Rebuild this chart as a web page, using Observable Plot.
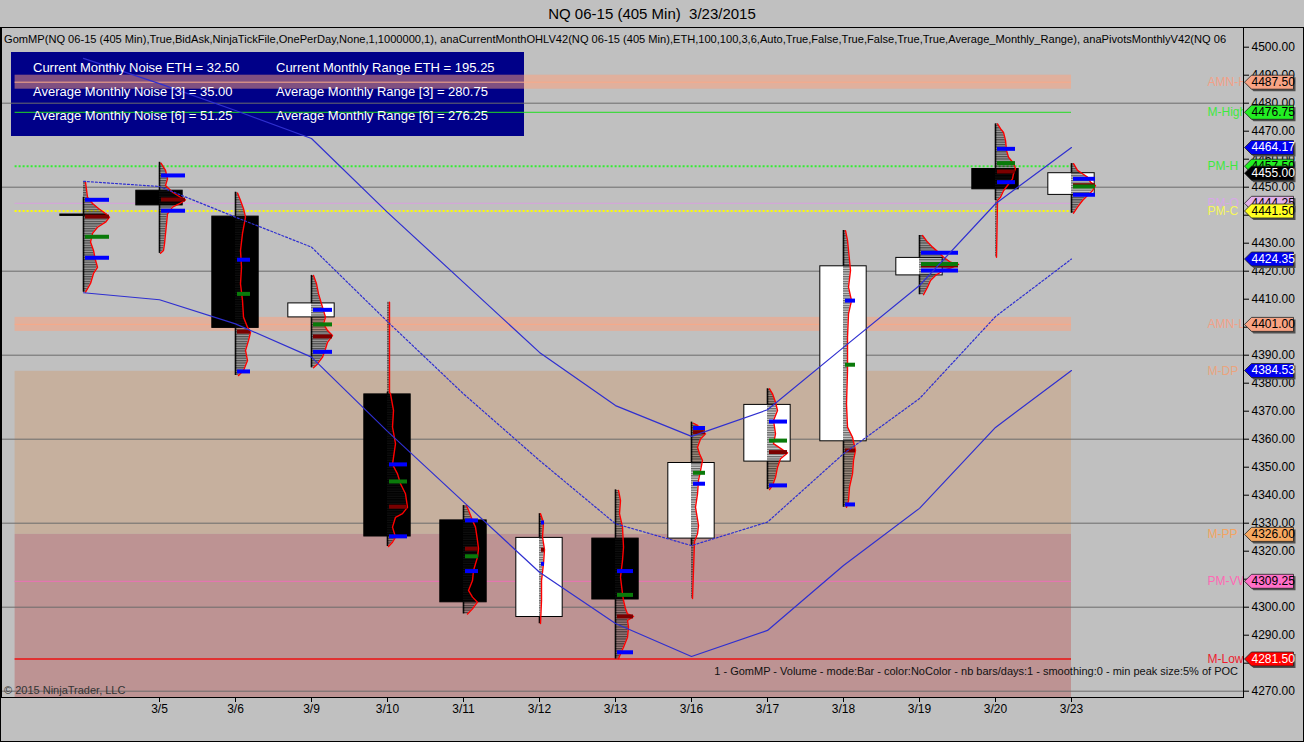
<!DOCTYPE html>
<html><head><meta charset="utf-8">
<script src="https://cdn.jsdelivr.net/npm/d3@7"></script>
<script src="https://cdn.jsdelivr.net/npm/@observablehq/plot@0.6"></script>
<style>
html,body{margin:0;padding:0;background:#c0c0c0;}
#wrap{position:relative;width:1304px;height:742px;overflow:hidden;font-family:"Liberation Sans",Arial,sans-serif;}
#border{position:absolute;left:0;top:27px;width:1304px;height:715px;box-sizing:border-box;border:1px solid #000;}
#infobox{position:absolute;left:11px;top:52px;width:513px;height:84px;background:#000088;}
#chart{position:absolute;left:0;top:0;}
.t{position:absolute;white-space:nowrap;}
#title{left:0;top:5px;width:1304px;text-align:center;font-size:15px;line-height:18px;color:#000;}
#params{left:4px;top:33px;width:1238px;overflow:hidden;font-size:11.1px;line-height:13px;color:#000;}
.info{font-size:13px;line-height:16px;color:#fff;}
#copy{left:4px;top:683px;font-size:11px;line-height:14px;color:#333;}
#caption{right:66px;top:664px;font-size:11px;line-height:14px;color:#111;}
</style></head>
<body>
<svg width="0" height="0" style="position:absolute"><defs>
<pattern id="hatch" patternUnits="userSpaceOnUse" width="6" height="2.4"><rect width="6" height="1.3" fill="rgba(0,0,0,0.6)"/><rect y="1.3" width="6" height="1.1" fill="rgba(60,60,60,0.25)"/></pattern>
</defs></svg>
<div id="wrap">
  <div id="border"></div>
  <div id="infobox"></div>
  <div id="chart"></div>
  <div class="t" id="title">NQ 06-15 (405 Min)&nbsp;&nbsp;3/23/2015</div>
  <div class="t" id="params">GomMP(NQ 06-15 (405 Min),True,BidAsk,NinjaTickFile,OnePerDay,None,1,1000000,1), anaCurrentMonthOHLV42(NQ 06-15 (405 Min),ETH,100,100,3,6,Auto,True,False,True,False,True,True,Average_Monthly_Range), anaPivotsMonthlyV42(NQ 06</div>
  <div class="t info" style="left:33px;top:60px">Current Monthly Noise ETH = 32.50</div>
  <div class="t info" style="left:276px;top:60px">Current Monthly Range ETH = 195.25</div>
  <div class="t info" style="left:33px;top:84px">Average Monthly Noise [3] = 35.00</div>
  <div class="t info" style="left:276px;top:84px">Average Monthly Range [3] = 280.75</div>
  <div class="t info" style="left:33px;top:108px">Average Monthly Noise [6] = 51.25</div>
  <div class="t info" style="left:276px;top:108px">Average Monthly Range [6] = 276.25</div>
  <div class="t" id="copy">© 2015 NinjaTrader, LLC</div>
  <div class="t" id="caption">1 - GomMP - Volume - mode:Bar - color:NoColor - nb bars/days:1 - smoothing:0 - min peak size:5% of POC</div>
</div>
<script>
// ---- bars (405 min, one per day) ----
const dates = ["3/4","3/5","3/6","3/9","3/10","3/11","3/12","3/13","3/16","3/17","3/18","3/19","3/20","3/23"];
const open  = [4440.25,4448.75,4439.5,4403.5,4376,4331,4296.5,4324.5,4324.5,4352,4359.25,4418.5,4456.5,4447.25];
const close = [4439.75,4443.5,4399.75,4408.5,4325.25,4301.75,4324.75,4302.75,4351.5,4372.25,4421.75,4424.75,4449.25,4455];
const high  = [4446.4,4458.9,4448.2,4418.5,4376.8,4336.3,4333.4,4341.9,4366.1,4378,4434.5,4432.75,4472.6,4458.4];
const low   = [4412.5,4426.4,4382.75,4385.5,4321.7,4297.6,4294.1,4281.5,4322,4342,4335.7,4411.6,4445.25,4440.7];

// ---- envelope lines ----
const upperBand  = [4496,4487,4477.4,4467.4,4441,4416,4391,4372,4361,4370.5,4392.8,4414.9,4444.1,4464.17];
const middleBand = [4452.1,4450.25,4439.3,4428.6,4402,4376.2,4352.4,4329.8,4322,4330.4,4354.8,4374.5,4403.8,4424.35];
const lowerBand  = [4412.3,4409.8,4401.2,4389.3,4362.8,4337.6,4312.5,4294.2,4282.4,4291.7,4314.9,4335.3,4364.2,4384.53];

// ---- volume profiles: [price, volume] ----
const profile_0304 = [[4451.8,2],[4446.4,4],[4444.2,9],[4442.4,15],[4440.6,22],[4439.3,26],[4437.5,22],[4435.7,14],[4433.5,9],[4430.4,7],[4427.4,10],[4423.9,12],[4421.4,14],[4419.2,10],[4415.6,7],[4412.5,2]];
const profile_0305 = [[4458.6,1.5],[4456.0,6],[4453.0,8],[4450.6,6],[4448.2,13],[4446.4,21],[4445.5,26],[4444.3,21],[4442.9,13],[4440.5,8],[4436.9,7],[4433.4,6],[4429.8,5],[4427.4,4],[4426.4,1]];
const profile_0306 = [[4447.9,2],[4445.25,5],[4442.3,8],[4439.3,10],[4433.5,7],[4427.4,5],[4421.4,6],[4415.5,5],[4409.5,7],[4403.6,8],[4400.0,12],[4398.2,15],[4395.25,13],[4391.7,10],[4388.1,12],[4384.5,8],[4382.75,3]];
const profile_0309 = [[4418.5,2],[4415.5,5],[4411.9,7],[4407.1,11],[4403.6,14],[4401.2,12],[4398.8,16],[4397.0,21],[4394.6,16],[4392.3,14],[4389.3,11],[4386.9,6],[4385.5,2]];
const profile_0310 = [[4408.9,2],[4376.8,2],[4376.2,3],[4370.3,6],[4364.3,5],[4358.4,8],[4351.0,5],[4347.6,10],[4344.1,13],[4340.5,18],[4335.7,20],[4333.4,15],[4332.1,8],[4328.6,5],[4325.0,8],[4323.2,5],[4321.7,1]];
const profile_0311 = [[4336.3,3],[4334.6,5],[4331.0,9],[4328.6,12],[4323.8,14],[4320.9,15],[4317.9,14],[4313.1,10],[4309.5,9],[4306.0,5],[4303.6,9],[4301.8,14],[4299.4,9],[4297.6,4]];
const profile_0312 = [[4333.4,1],[4330.25,4],[4325,3],[4320.6,5],[4315.6,4],[4309.5,2],[4302.4,2],[4294.2,1]];
const profile_0313 = [[4341.7,3],[4338.1,5],[4333.4,4],[4328.6,7],[4321.4,8],[4316.7,7],[4310.7,5],[4304.8,7],[4302.4,8],[4299.4,10],[4297.6,12],[4296.7,18],[4295.25,12],[4292.9,13],[4289.3,12],[4285.7,8],[4283.4,5],[4281.6,3]];
const profile_0316 = [[4365.7,2],[4364.9,6],[4363.7,9],[4361.9,14],[4360.1,9],[4357.1,6],[4354.8,8],[4352.4,11],[4348.8,9],[4345.3,7],[4340.5,6],[4335.7,4],[4329.2,7],[4326.2,6],[4323.5,3],[4303.1,1]];
const profile_0317 = [[4378.0,2],[4376.2,5],[4373.2,8],[4370.25,10],[4366.7,6],[4361.9,8],[4358.4,6],[4356.0,16],[4355.1,20],[4353.0,13],[4350.0,10],[4346.4,8],[4343.5,5],[4342.0,2]];
const profile_0318 = [[4434.5,2],[4431.0,4],[4423.9,6],[4420.3,7],[4414.3,5],[4409.5,8],[4404.8,5],[4396.4,4],[4384.5,4],[4372.6,3],[4364.3,4],[4360.7,9],[4356.0,12],[4352.4,10],[4347.6,9],[4342.9,6],[4338.1,5],[4335.7,3]];
const profile_0319 = [[4432.75,3],[4430.4,8],[4428.6,13],[4426.8,19],[4425.0,24],[4423.2,31],[4422.4,39],[4421.4,33],[4420.25,24],[4418.5,16],[4416.7,11],[4414.3,8],[4411.6,4]];
const profile_0320 = [[4472.6,2],[4470.9,5],[4469.6,8],[4466.7,10],[4463.1,11],[4460.7,13],[4458.6,18],[4456.6,20],[4454.8,18],[4453.0,17],[4450.6,12],[4448.75,8],[4446.4,5],[4445.25,2],[4425.0,1]];
const profile_0323 = [[4458.4,2],[4456.0,6],[4454.8,11],[4453.6,16],[4451.8,19],[4450.6,24],[4448.75,21],[4447.0,16],[4445.25,11],[4442.9,6],[4440.7,2]];
const profiles = [profile_0304,profile_0305,profile_0306,profile_0309,profile_0310,profile_0311,profile_0312,profile_0313,profile_0316,profile_0317,profile_0318,profile_0319,profile_0320,profile_0323];

// ---- profile markers ----
const vah  = [4445.5,4454.2,4424.1,4406.2,4351.0,4331.0,4330.25,4312.9,4364.0,4366.3,4409.5,4426.6,4463.7,4453.0];
const val  = [4424.8,4441.6,4384.2,4391.2,4325.3,4312.9,4315.5,4283.9,4344.1,4343.5,4336.7,4420.25,4451.8,4447.3];
const vwap = [4432.3,null,4411.9,4401.0,4344.9,4318.2,null,4304.4,4348.0,4359.5,4386.6,4422.6,4458.6,4450.25];
const poc  = [4439.5,4445.6,4398.4,4396.7,4335.9,4320.9,4320.5,4296.7,4362.5,4355.4,4356.0,4422.0,4455.6,4450.7];

// ---- monthly levels ----
const levelNames  = ["AMN-H","M-High","PM-H","PM-O","PM-C","AMN-L","M-DP","M-PP","PM-VWAP","M-Low"];
const levelValues = [4487.50,4476.75,4457.50,4444.25,4441.50,4401.00,4384.25,4326.00,4309.25,4281.50];
const noiseHalfWidth = 2.5;
const zoneNames  = ["DP-PP","PP-S1"];
const zoneTop    = [4384.25,4326.00];
const zoneBottom = [4326.00,4267.50];
const levelsFromBar = -0.9;

// ---- right-axis price markers ----
const flagValues = [4487.50,4476.75,4464.17,4457.50,4455.00,4444.25,4441.50,4424.35,4401.00,4384.53,4326.00,4309.25,4281.50];
const flagKinds  = ["AMN-H","M-High","Upper","PM-H","Last","PM-O","PM-C","Middle","AMN-L","Lower","M-PP","PM-VWAP","M-Low"];

const gridValues = d3.range(4270, 4481, 30);
const tickValues = d3.range(4270, 4501, 10);

// ---------- styles ----------
const BAR_SPACING_VOL = 76;
const lastBar = dates.length - 1;
const flagFill = {"AMN-H":"#f8a384","M-High":"#22ee22","Upper":"#0000ee","PM-H":"#22ee22","Last":"#000000","PM-O":"#e2b0ea","PM-C":"#ffff22","Middle":"#0000ee","AMN-L":"#f8a384","Lower":"#0000ee","M-PP":"#f7a860","PM-VWAP":"#ff70c8","M-Low":"#ff0000"};
const flagText = {"Upper":"#fff","Middle":"#fff","Lower":"#fff","Last":"#fff","M-Low":"#fff"};
const labelColor = {"AMN-H":"#f2a088","M-High":"#3ee83e","PM-H":"#3ee83e","PM-O":"#d8a8e8","PM-C":"#f6f65a","AMN-L":"#f2a088","M-DP":"#eaa47e","M-PP":"#f4a460","PM-VWAP":"#ff69b4","M-Low":"#ee1c2e"};
const zoneFill = {"DP-PP":"#c6b09e","PP-S1":"#bd9393"};

const bars = dates.map((d,i)=>({i, d, open:open[i], close:close[i], high:high[i], low:low[i]}));
const levels = levelNames.map((name,k)=>({name, value:levelValues[k]}));
const zones = zoneNames.map((name,k)=>({name, top:zoneTop[k], bottom:zoneBottom[k]}));
const bands = levels.filter(l=>l.name.startsWith("AMN"));
const profRows = profiles.flatMap((p,i)=>p.map(([price,vol])=>({bar:i, price, vol})));
const maxVol = profiles.map(p=>d3.max(p, r=>r[1]));
const markerRows = [];
[["POC",poc],["VWAP",vwap],["VAH",vah],["VAL",val]].forEach(([kind,arr])=>arr.forEach((p,i)=>{ if(p!=null) markerRows.push({bar:i, price:p, kind}); }));
const markerColor = {VAH:"#0000ff", VAL:"#0000ff", VWAP:"#0a7a0a", POC:"#7a0000"};
const bandRows = (arr,name)=>arr.map((v,i)=>({i, v, name}));
const flags = flagValues.map((v,k)=>({value:v, kind:flagKinds[k]}));
// axis labels fully hidden under a price flag are not drawn
const shownTicks = tickValues.filter(t => !flagValues.some(f => Math.abs(f - t) < 1.2));

const lineStyle = {
  "M-High": {stroke:"#22dd22", strokeWidth:1},
  "PM-H":   {stroke:"#33ee33", strokeWidth:2, strokeDasharray:"2,2"},
  "PM-O":   {stroke:"#d8a0dc", strokeWidth:1},
  "PM-C":   {stroke:"#ffff00", strokeWidth:2, strokeDasharray:"2,2"},
  "PM-VWAP":{stroke:"#ee70b8", strokeWidth:1},
  "M-Low":  {stroke:"#ee1010", strokeWidth:1.5},
  "AMN-H":  {stroke:"#f8a888", strokeWidth:1},
  "AMN-L":  {stroke:"#f8a888", strokeWidth:1}
};

const flagSymbol = {draw(ctx){ ctx.moveTo(1,0); ctx.lineTo(8,-7); ctx.lineTo(50,-7); ctx.lineTo(50,7); ctx.lineTo(8,7); ctx.closePath(); }};

const marks = [
  Plot.rect(zones, {x1: ()=>levelsFromBar, x2: ()=>lastBar, y1:"bottom", y2:"top", fill: d=>zoneFill[d.name], clip:true}),
  Plot.rect(bands, {x1: ()=>levelsFromBar, x2: ()=>lastBar, y1: d=>d.value-noiseHalfWidth, y2: d=>d.value+noiseHalfWidth, fill:"#ffa07a", fillOpacity:0.5}),
  Plot.ruleY(gridValues, {stroke:"#6c6c6c", strokeWidth:1}),
  ...levels.filter(l=>lineStyle[l.name]).map(l=>Plot.ruleY([l], {y:"value", x1: ()=>levelsFromBar, x2: ()=>lastBar, ...lineStyle[l.name]})),
  Plot.ruleX(bars, {x:"i", y1:"low", y2:"high", stroke:"#000", strokeWidth:1.6}),
  Plot.rect(bars, {x1: d=>d.i-0.305, x2: d=>d.i+0.305, y1:"open", y2:"close", fill: d=>d.close>=d.open ? "#ffffff" : "#000000", stroke:"#000", strokeWidth:1}),
  Plot.areaX(profRows, {y:"price", x1:"bar", x2: d=>d.bar + d.vol/BAR_SPACING_VOL, z:"bar", fill:"url(#hatch)"}),
  Plot.lineX(profRows, {y:"price", x: d=>d.bar + d.vol/BAR_SPACING_VOL, z:"bar", stroke:"#ff0000", strokeWidth:1.4}),
  Plot.ruleY(markerRows, {y:"price", x1: d=>d.bar + 2/BAR_SPACING_VOL, x2: d=>d.bar + maxVol[d.bar]/BAR_SPACING_VOL, stroke: d=>markerColor[d.kind], strokeWidth:4}),
  Plot.line(bandRows(upperBand,"u"), {x:"i", y:"v", stroke:"#2f2fd0", strokeWidth:1.2}),
  Plot.line(bandRows(middleBand,"m"), {x:"i", y:"v", stroke:"#2f2fd0", strokeWidth:1.2, strokeDasharray:"2,2"}),
  Plot.line(bandRows(lowerBand,"l"), {x:"i", y:"v", stroke:"#2f2fd0", strokeWidth:1.2}),
  Plot.text(levels, {y:"value", text:"name", frameAnchor:"right", dx:-36, textAnchor:"start", fill: d=>labelColor[d.name], fontSize:12, clip:true}),
  Plot.frame({stroke:"#000"}),
  Plot.axisY(tickValues, {anchor:"right", tickSize:5, tickPadding:3, text:null, label:null}),
  Plot.axisY(shownTicks, {anchor:"right", tickSize:0, tickPadding:8, tickFormat: d=>d.toFixed(2), label:null, fontSize:12}),
  Plot.axisX(d3.range(1, dates.length), {anchor:"bottom", tickSize:5, tickPadding:2, tickFormat: i=>dates[i], label:null, fontSize:12}),
  ...flags.flatMap(f=>[
    Plot.dot([f], {y:"value", frameAnchor:"right", symbol:flagSymbol, dx:2, dy:2, fill:"#505050", stroke:"none"}),
    Plot.dot([f], {y:"value", frameAnchor:"right", symbol:flagSymbol, fill: d=>flagFill[d.kind], stroke:"#222", strokeWidth:0.8}),
    Plot.text([f], {y:"value", text: d=>d.value.toFixed(2), frameAnchor:"right", dx:8, textAnchor:"start", fill: d=>flagText[d.kind]||"#000", fontSize:12})
  ])
];

const chart = Plot.plot({
  width:1304, height:742,
  marginTop:27, marginBottom:45, marginLeft:1, marginRight:61,
  x:{type:"linear", domain:[-82/76, 1160/76], axis:null},
  y:{type:"linear", domain:[4267.75, 4507.036], axis:null},
  color:{type:"identity"},
  style:{background:"transparent", fontFamily:"'Liberation Sans', Arial, sans-serif", fontSize:"12px", color:"#000", overflow:"visible", maxWidth:"none"},
  marks
});
document.getElementById("chart").appendChild(chart);
</script>
</body></html>
